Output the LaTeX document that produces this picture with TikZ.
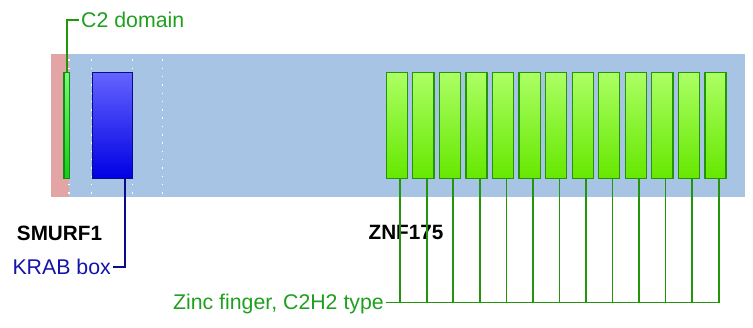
\documentclass[tikz,border=0pt]{standalone}
\usepackage{fontspec}
\setmainfont{Liberation Sans}
\usetikzlibrary{positioning}

\definecolor{bandblue}{RGB}{168,196,228}
\definecolor{bandpink}{RGB}{226,164,164}
\definecolor{zfline}{RGB}{34,150,10}
\definecolor{zftext}{RGB}{30,160,30}
\definecolor{krabtext}{RGB}{20,20,170}
\definecolor{krabline}{RGB}{10,10,140}

\begin{document}
\begin{tikzpicture}[
		x=1pt, y=-1pt,
		lbl/.style={font=\fontsize{21.3}{25}\selectfont, text height=15.2pt, text depth=0pt, inner sep=2pt},
		gene/.style={lbl, font=\fontsize{20.7}{24}\selectfont\bfseries, text height=14.8pt},
		dombox/.style={rectangle, inner sep=0pt, line width=1.2pt, minimum height=105.8pt},
		c2box/.style={dombox, draw={rgb,255:red,20;green,140;blue,20},
			top color={rgb,255:red,120;green,250;blue,120}, bottom color={rgb,255:red,20;green,205;blue,20}, minimum width=5.5pt},
		krabbox/.style={dombox, draw=krabline,
			top color={rgb,255:red,100;green,100;blue,255}, bottom color={rgb,255:red,0;green,0;blue,228}, minimum width=39.8pt},
		zfbox/.style={dombox, draw=zfline,
			top color={rgb,255:red,172;green,255;blue,100}, bottom color={rgb,255:red,102;green,232;blue,0}, minimum width=21.1pt},
		sepline/.style={white, line width=1.5pt, dash pattern=on 1.5pt off 6.8pt},
		zfconn/.style={zfline, line width=1.6pt}
		]
		
		\useasboundingbox (0,0) rectangle (753,327);
		
		% Protein band with the shaded start
		\fill[bandpink] (51,54) rectangle (69,197);
		\fill[bandblue] (69,54) rectangle (745,197);
		\foreach \dx in {69,91.7,132.3,162.7}
		\draw[sepline] (\dx,59.3) -- (\dx,195);
		
		% Domains
		\node[c2box] (c2dom) at (66.7,125.2) {};
		\node[krabbox, right=21.7pt of c2dom] (krab) {};
		\node[zfbox] (zf1) at (396.85,125.2) {};
		\foreach \i [count=\j from 2] in {1,...,12}
		\node[zfbox, right=4.25pt of zf\i] (zf\j) {};
		
		% Gene names
		\node[gene] (smurf) at (59.5,233.3) {SMURF1};
		\node[gene] (znf) at (406,232.5) {ZNF175};
		
		% Domain labels and their leaders
		\node[lbl, zftext, anchor=west] (c2lab) at (79,20) {C2 domain};
		\draw[zfconn] (c2dom.north) |- (c2lab.west);
		
		\node[lbl, krabtext, anchor=east] (krablab) at (113,267) {KRAB box};
		\draw[krabline, line width=1.6pt] ([xshift=13pt]krab.south) |- (krablab.east);
		
		\node[lbl, zftext, anchor=east] (zflab) at (386,302.3) {Zinc finger, C2H2 type};
		\foreach \i in {1,...,13}
		\draw[zfconn] ([xshift=3.3pt]zf\i.south) |- (zflab.east);
		
	\end{tikzpicture}
\end{document}
